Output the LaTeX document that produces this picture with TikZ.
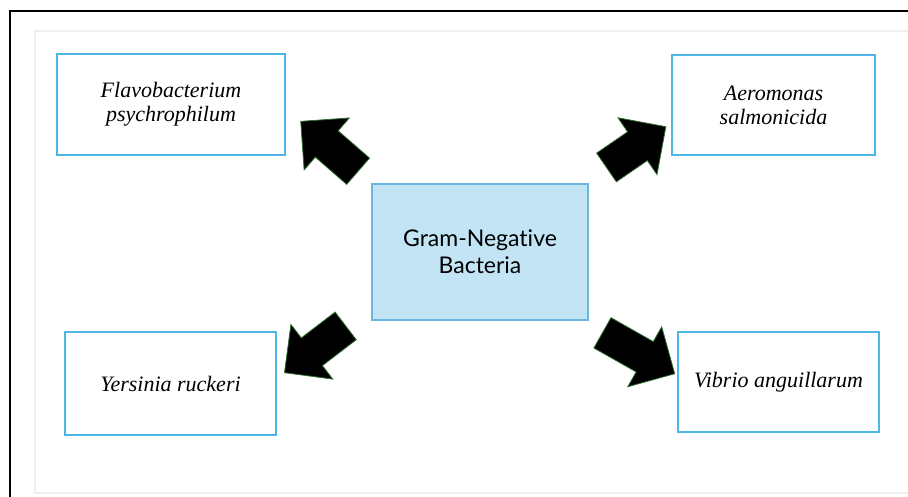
\documentclass[tikz,border=0pt]{standalone}
\usepackage{fontspec}
\setmainfont{Liberation Serif}
\newfontfamily\groupfont[Ligatures=NoCommon]{Lato}
\usetikzlibrary{shapes.arrows}

\definecolor{boxblue}{HTML}{4DB6E6}
\definecolor{centrefill}{HTML}{C2E4F5}
\definecolor{centreline}{HTML}{6AB6E2}
\definecolor{framegray}{HTML}{EFEFEF}
\definecolor{arrowedge}{HTML}{2E6B2E}

\begin{document}
\begin{tikzpicture}[x=1pt,y=-1pt,
	species/.style={draw=boxblue,line width=1.2pt,fill=white,align=center,font=\fontsize{22}{24}\selectfont\itshape},
	group/.style={draw=centreline,line width=1.2pt,fill=centrefill,align=center,font=\groupfont\fontsize{23}{27}\selectfont,minimum width=216pt,minimum height=136pt},
	bigarrow/.style={single arrow,fill=black,draw=arrowedge,line width=0.8pt,inner sep=17pt,single arrow head extend=17pt,single arrow tip angle=90,minimum height=#1}]

	\useasboundingbox (0,0) rectangle (908,496);
	\fill[white] (0,0) rectangle (908,496);

	% frame
	\draw[line width=2pt] (10,497) -- (10,11) -- (909,11);
	\draw[framegray,line width=2pt] (35,31) rectangle (912,493);

	% boxes
	\node[group] (gram) at (480,252) {Gram-Negative\\Bacteria};
	\node[species,minimum width=228pt,minimum height=101pt] (flavo) at (171,104.5) {Flavobacterium\\psychrophilum};
	\node[species,minimum width=203pt,minimum height=100pt] (aero) at (773.5,105) {Aeromonas\\salmonicida};
	\node[species,minimum width=211pt,minimum height=103pt] (yers) at (170.5,383.5) {Yersinia ruckeri};
	\node[species,minimum width=201pt,minimum height=100pt] (vibrio) at (778.5,382) {Vibrio anguillarum};

	% block arrows
	\node[bigarrow=76,rotate=139] (arrNW) at (336,152) {};
	\node[bigarrow=72,rotate=34.5] (arrNE) at (629,152) {};
	\node[bigarrow=77,rotate=217.4] (arrSW) at (322,344) {};
	\node[bigarrow=83,rotate=-29.5] (arrSE) at (631,349) {};
\end{tikzpicture}
\end{document}
